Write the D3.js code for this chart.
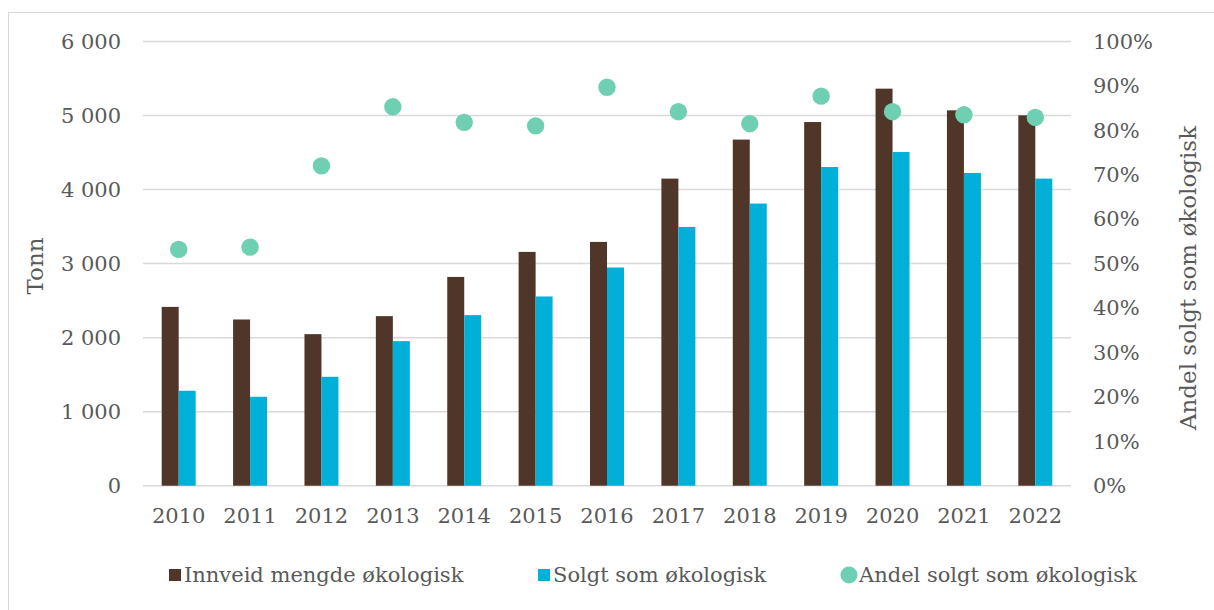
<!DOCTYPE html>
<html>
<head>
<meta charset="utf-8">
<script src="https://cdn.jsdelivr.net/npm/d3@7"></script>
<style>
  body { margin: 0; background: #fff; }
  text { font-family: Georgia, "DejaVu Serif", serif; fill: #595959; }
</style>
</head>
<body>
<div id="chart"></div>
<script>
// data
var years = ["2010", "2011", "2012", "2013", "2014", "2015", "2016", "2017", "2018", "2019", "2020", "2021", "2022"];
var innveid = [2415, 2245, 2047, 2290, 2820, 3158, 3293, 4148, 4675, 4912, 5363, 5070, 5003];
var solgt = [1282, 1201, 1471, 1953, 2304, 2556, 2947, 3495, 3811, 4305, 4507, 4224, 4148];
var andel = [0.532, 0.537, 0.720, 0.853, 0.818, 0.810, 0.897, 0.842, 0.815, 0.877, 0.842, 0.835, 0.829];
var leftTicks = [0, 1000, 2000, 3000, 4000, 5000, 6000];
var rightTicks = [0, 0.1, 0.2, 0.3, 0.4, 0.5, 0.6, 0.7, 0.8, 0.9, 1];
var legendLabels = ["Innveid mengde økologisk", "Solgt som økologisk", "Andel solgt som økologisk"];

var colBrown = "#4f3629";
var colBlue = "#00b0d8";
var colDot = "#6fcfb2";

var svgWidth = 1214;
var svgHeight = 610;
var margin = { top: 41.5, right: 143, bottom: 124.3, left: 143 };
var width = svgWidth - margin.left - margin.right;
var height = svgHeight - margin.top - margin.bottom;

var svg = d3.select("#chart")
  .append("svg")
  .attr("width", svgWidth)
  .attr("height", svgHeight);

// outer frame
svg.append("rect")
  .attr("x", 8.5).attr("y", 12.5)
  .attr("width", 1220).attr("height", 620)
  .attr("fill", "none")
  .attr("stroke", "#d9d9d9")
  .attr("stroke-width", 1);

var g = svg.append("g")
  .attr("transform", `translate(${margin.left}, ${margin.top})`);

var locale = d3.formatLocale({ decimal: ",", thousands: "\u00a0", grouping: [3], currency: ["", " kr"] });
var fmt = locale.format(",d");

var x = d3.scaleBand().domain(years).range([0, width]).padding(0);
var y = d3.scaleLinear().domain([0, 6000]).range([height, 0]);
var y2 = d3.scaleLinear().domain([0, 1]).range([height, 0]);

// gridlines
g.selectAll(".grid")
  .data(leftTicks)
  .enter()
  .append("line")
  .attr("x1", 0)
  .attr("x2", width)
  .attr("y1", d => y(d))
  .attr("y2", d => y(d))
  .attr("stroke", "#d9d9d9")
  .attr("stroke-width", 1.5);

// axes
var yAxis = d3.axisLeft(y).tickValues(leftTicks).tickFormat(fmt).tickSize(0).tickPadding(22);
var yAxisG = g.append("g").call(yAxis);
yAxisG.select(".domain").remove();
yAxisG.selectAll("text").style("font-size", "21px").attr("fill", "#595959");

var y2Axis = d3.axisRight(y2).tickValues(rightTicks).tickFormat(d3.format(".0%")).tickSize(0).tickPadding(22);
var y2AxisG = g.append("g").attr("transform", `translate(${width}, 0)`).call(y2Axis);
y2AxisG.select(".domain").remove();
y2AxisG.selectAll("text").style("font-size", "21px").attr("fill", "#595959");

var xAxis = d3.axisBottom(x).tickSize(0).tickPadding(22);
var xAxisG = g.append("g").attr("transform", `translate(0, ${height})`).call(xAxis);
xAxisG.select(".domain").remove();
xAxisG.selectAll("text").style("font-size", "21px").attr("fill", "#595959");

// bars
var barW = x.bandwidth() * 0.238;

g.selectAll(".bar-innveid")
  .data(years)
  .enter()
  .append("rect")
  .attr("x", (d) => x(d) + x.bandwidth() / 2 - barW)
  .attr("y", (d, i) => y(innveid[i]))
  .attr("width", barW)
  .attr("height", (d, i) => height - y(innveid[i]))
  .attr("fill", colBrown);

g.selectAll(".bar-solgt")
  .data(years)
  .enter()
  .append("rect")
  .attr("x", (d) => x(d) + x.bandwidth() / 2)
  .attr("y", (d, i) => y(solgt[i]))
  .attr("width", barW)
  .attr("height", (d, i) => height - y(solgt[i]))
  .attr("fill", colBlue);

// dots
g.selectAll(".dot")
  .data(years)
  .enter()
  .append("circle")
  .attr("cx", d => x(d) + x.bandwidth() / 2)
  .attr("cy", (d, i) => y2(andel[i]))
  .attr("r", 8.7)
  .attr("fill", colDot);

// axis titles
svg.append("text")
  .attr("transform", "translate(43, 266) rotate(-90)")
  .attr("text-anchor", "middle")
  .style("font-size", "23px")
  .text("Tonn");

svg.append("text")
  .attr("transform", "translate(1196, 278) rotate(-90)")
  .attr("text-anchor", "middle")
  .style("font-size", "23px")
  .text("Andel solgt som økologisk");

// legend
var legX = [169, 538, 842];
var leg = svg.append("g");
legendLabels.forEach(function(lbl, i) {
  if (i < 2) {
    leg.append("rect")
      .attr("x", legX[i]).attr("y", 569)
      .attr("width", 12).attr("height", 12)
      .attr("fill", i == 0 ? colBrown : colBlue);
  } else {
    leg.append("circle")
      .attr("cx", legX[i] + 7).attr("cy", 575)
      .attr("r", 8.5)
      .attr("fill", colDot);
  }
  leg.append("text")
    .attr("x", legX[i] + (i < 2 ? 15 : 17))
    .attr("y", 582)
    .style("font-size", "21px")
    .text(lbl);
});
</script>
</body>
</html>
